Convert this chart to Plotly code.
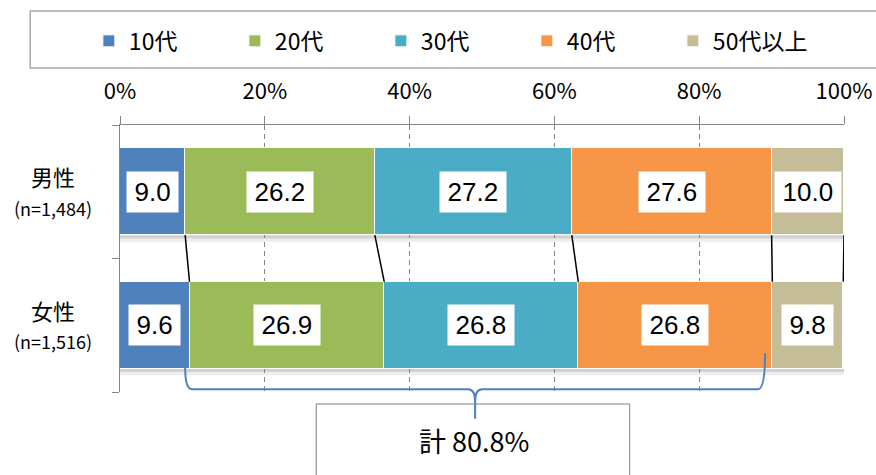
import plotly.graph_objects as go

# ---- data ----
groups = ["男性", "女性"]
group_n = ["(n=1,484)", "(n=1,516)"]
ages = ["10代", "20代", "30代", "40代", "50代以上"]
male = [9.0, 26.2, 27.2, 27.6, 10.0]
female = [9.6, 26.9, 26.8, 26.8, 9.8]
total_label = "計 80.8%"
tick_vals = [0, 20, 40, 60, 80, 100]

colors = ["#4F81BD", "#9BBB59", "#4BACC6", "#F79646", "#C4BD97"]
series = [male, female]
BAR_W = 0.65

CJK = "Noto Sans CJK JP, Noto Sans, sans-serif"
NUM = "Liberation Sans, Arial, sans-serif"

fig = go.Figure()
for i, age in enumerate(ages):
    fig.add_trace(go.Bar(
        name=age, orientation="h",
        y=list(range(len(groups))),
        x=[s[i] for s in series],
        width=BAR_W,
        marker=dict(color=colors[i], line=dict(color="white", width=1)),
        hoverinfo="x+name",
    ))

def cums(vals):
    out, c = [], 0.0
    for v in vals:
        c += v
        out.append(round(c, 1))
    return out

shapes = []
annotations = []

# shadows under bars
for gi in range(len(groups)):
    yb = gi + BAR_W / 2
    shapes.append(dict(type="rect", xref="x", yref="y", x0=0, x1=100, y0=yb, y1=yb + 0.025,
                       fillcolor="rgba(0,0,0,0.18)", line=dict(width=0), layer="below"))
    shapes.append(dict(type="rect", xref="x", yref="y", x0=0, x1=100, y0=yb + 0.025, y1=yb + 0.05,
                       fillcolor="rgba(0,0,0,0.07)", line=dict(width=0), layer="below"))

# data labels
def text_w(s):
    return sum(7.23 if ch == "." else 14.46 for ch in s)

for gi, vals in enumerate(series):
    c = 0.0
    for v in vals:
        t = f"{v:.1f}"
        annotations.append(dict(
            x=c + v / 2, y=gi, xref="x", yref="y", text=t, showarrow=False,
            font=dict(family=NUM, size=26, color="black"),
            bgcolor="white", borderpad=3, width=text_w(t) + 9, height=34,
        ))
        c += v

# connector lines between bars
mc, fc = cums(male), cums(female)
for a, b in zip(mc, fc):
    shapes.append(dict(type="line", xref="x", yref="y", x0=a, x1=b,
                       y0=0 + BAR_W / 2, y1=1 - BAR_W / 2,
                       line=dict(color="black", width=1.5)))

# category labels
for gi, (g, n) in enumerate(zip(groups, group_n)):
    annotations.append(dict(x=-0.092, y=gi - 0.115, xref="paper", yref="y", text=g,
                            xanchor="center", yanchor="middle",
                            showarrow=False, font=dict(family=CJK, size=22, color="black")))
    annotations.append(dict(x=-0.092, y=gi + 0.12, xref="paper", yref="y", text=n,
                            xanchor="center", yanchor="middle",
                            showarrow=False, font=dict(family=CJK, size=18, color="black")))

# legend frame
shapes.append(dict(type="rect", xref="paper", yref="paper", x0=-0.124, x1=1.2,
                   y0=1.2135, y1=1.427, line=dict(color="#A6A6A6", width=1.5),
                   fillcolor="rgba(0,0,0,0)"))

# total box
shapes.append(dict(type="rect", xref="paper", yref="paper", x0=0.271, x1=0.704,
                   y0=-0.045, y1=-0.5, line=dict(color="#7F7F7F", width=1),
                   fillcolor="white"))

# brace over 20代-40代 (female), x in data units, y in paper units (not clipped)
x0 = fc[0] - 0.6
x1 = fc[3] - 1.0
xc = (x0 + x1) / 2
r = 1.0
yt0, yt1, yh, yd, ytip = 0.09, 0.145, 0.01, -0.035, -0.10
path = (f"M {x0},{yt0} Q {x0},{yh} {x0 + r},{yh} L {xc - r},{yh} "
        f"Q {xc},{yh} {xc},{yd} L {xc},{ytip} M {xc},{yd} Q {xc},{yh} {xc + r},{yh} "
        f"L {x1 - r},{yh} Q {x1},{yh} {x1},{yt1}")
shapes.append(dict(type="path", xref="x", yref="paper", path=path,
                   line=dict(color="#4F81BD", width=2)))

annotations.append(dict(x=0.489, y=-0.18, xref="paper", yref="paper", text=total_label,
                        xanchor="center", yanchor="middle",
                        showarrow=False, font=dict(family=CJK, size=27, color="black")))

fig.update_layout(
    barmode="stack",
    width=876, height=475,
    margin=dict(l=120, r=32, t=125, b=83, autoexpand=False),
    plot_bgcolor="white", paper_bgcolor="white",
    bargap=0,
    showlegend=True,
    legend=dict(orientation="h", x=-0.043, xanchor="left", y=1.315, yanchor="middle",
                font=dict(family=CJK, size=23, color="black"),
                entrywidth=101, entrywidthmode="pixels", itemclick=False,
                bgcolor="rgba(0,0,0,0)", traceorder="normal"),
    xaxis=dict(side="top", range=[0, 100], tickvals=tick_vals,
               ticktext=[f"{v}%" for v in tick_vals],
               ticks="outside", ticklen=8, tickcolor="#868686",
               ticklabelstandoff=8,
               tickfont=dict(family=CJK, size=22, color="black"),
               showline=True, linecolor="#868686", linewidth=1,
               showgrid=True, gridcolor="#868686", gridwidth=1, griddash="5px,4px",
               zeroline=False, fixedrange=True),
    yaxis=dict(range=[1.5, -0.5], tickvals=[-0.5, 0.5, 1.5], ticktext=["", "", ""],
               ticks="outside", ticklen=7, tickcolor="#868686",
               showline=True, linecolor="#868686", linewidth=1,
               showgrid=False, zeroline=False, fixedrange=True),
    shapes=shapes,
    annotations=annotations,
)

fig.write_html("out.html", config={"displayModeBar": False},
               post_script="document.body.style.margin='0';")
